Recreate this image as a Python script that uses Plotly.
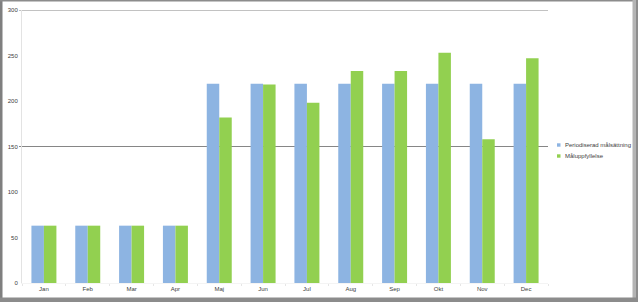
import plotly.graph_objects as go

months = ["Jan", "Feb", "Mar", "Apr", "Maj", "Jun", "Jul", "Aug", "Sep", "Okt", "Nov", "Dec"]
planned = [63, 63, 63, 63, 219, 219, 219, 219, 219, 219, 219, 219]
achieved = [63, 63, 63, 63, 182, 218, 198, 233, 233, 253, 158, 247]
series_names = ["Periodiserad målsättning", "Måluppfyllelse"]
series_colors = ["#8DB4E2", "#92D050"]
y_ticks = [0, 50, 100, 150, 200, 250, 300]
grid_values = [150, 300]

W, H = 638, 302
L, R, T, B = 22, 90, 10, 19

fig = go.Figure()
fig.add_trace(go.Bar(x=months, y=planned, name=series_names[0], marker_color=series_colors[0],
                     marker_line_width=0))
fig.add_trace(go.Bar(x=months, y=achieved, name=series_names[1], marker_color=series_colors[1],
                     marker_line_width=0))

pw = W - L - R
ph = H - T - B
def px(x):
    return (x - L) / pw
def py(y):
    return (H - B - y) / ph

shapes = []
for g in grid_values:
    shapes.append(dict(type="line", xref="paper", yref="y", x0=px(19), x1=1, y0=g, y1=g,
                       line=dict(color="#868686", width=1), layer="below"))

# outer frame
frame = [
    (0, 0, 2.5, H, "#7f7f7f"),
    (0, 0, W, 1.5, "#8c8c8c"),
    (632.5, 0, 636, H, "#b4b4b4"),
    (636, 0, W, H, "#8c8c8c"),
    (0, 297.5, W, H, "#8c8c8c"),
]
for x0, y0, x1, y1, c in frame:
    shapes.append(dict(type="rect", xref="paper", yref="paper", x0=px(x0), x1=px(x1),
                       y0=py(y1), y1=py(y0), fillcolor=c, line=dict(width=0), layer="above"))

# custom legend (small square markers like the original)
annotations = []
legend_y = [145, 156]
for name, color, ly in zip(series_names, series_colors, legend_y):
    shapes.append(dict(type="rect", xref="paper", yref="paper", x0=px(557), x1=px(560.5),
                       y0=py(ly + 1.7), y1=py(ly - 1.7), fillcolor=color, line=dict(width=0)))
    annotations.append(dict(x=px(562.5), y=py(ly), xref="paper", yref="paper", text=name,
                            showarrow=False, xanchor="left", yanchor="middle",
                            font=dict(size=6, color="#404040")))

fig.update_layout(
    width=W, height=H,
    margin=dict(l=L, r=R, t=T, b=B, autoexpand=False),
    paper_bgcolor="white", plot_bgcolor="white",
    barmode="group", bargap=0.43, bargroupgap=0,
    font=dict(family="Liberation Sans", size=6, color="#404040"),
    showlegend=False,
    shapes=shapes,
    annotations=annotations,
    xaxis=dict(showgrid=False, showline=True, linecolor="#f4f4f4", linewidth=1,
               ticks="outside", tickson="boundaries", ticklen=2, tickcolor="#e6e6e6",
               tickfont=dict(size=6), fixedrange=True),
    yaxis=dict(range=[0, 300], tickvals=y_ticks, showgrid=False, showline=True,
               linecolor="#e3e3e3", linewidth=1, ticks="", zeroline=False,
               tickfont=dict(size=6), ticklabelstandoff=2),
)

fig.write_html("out.html")
